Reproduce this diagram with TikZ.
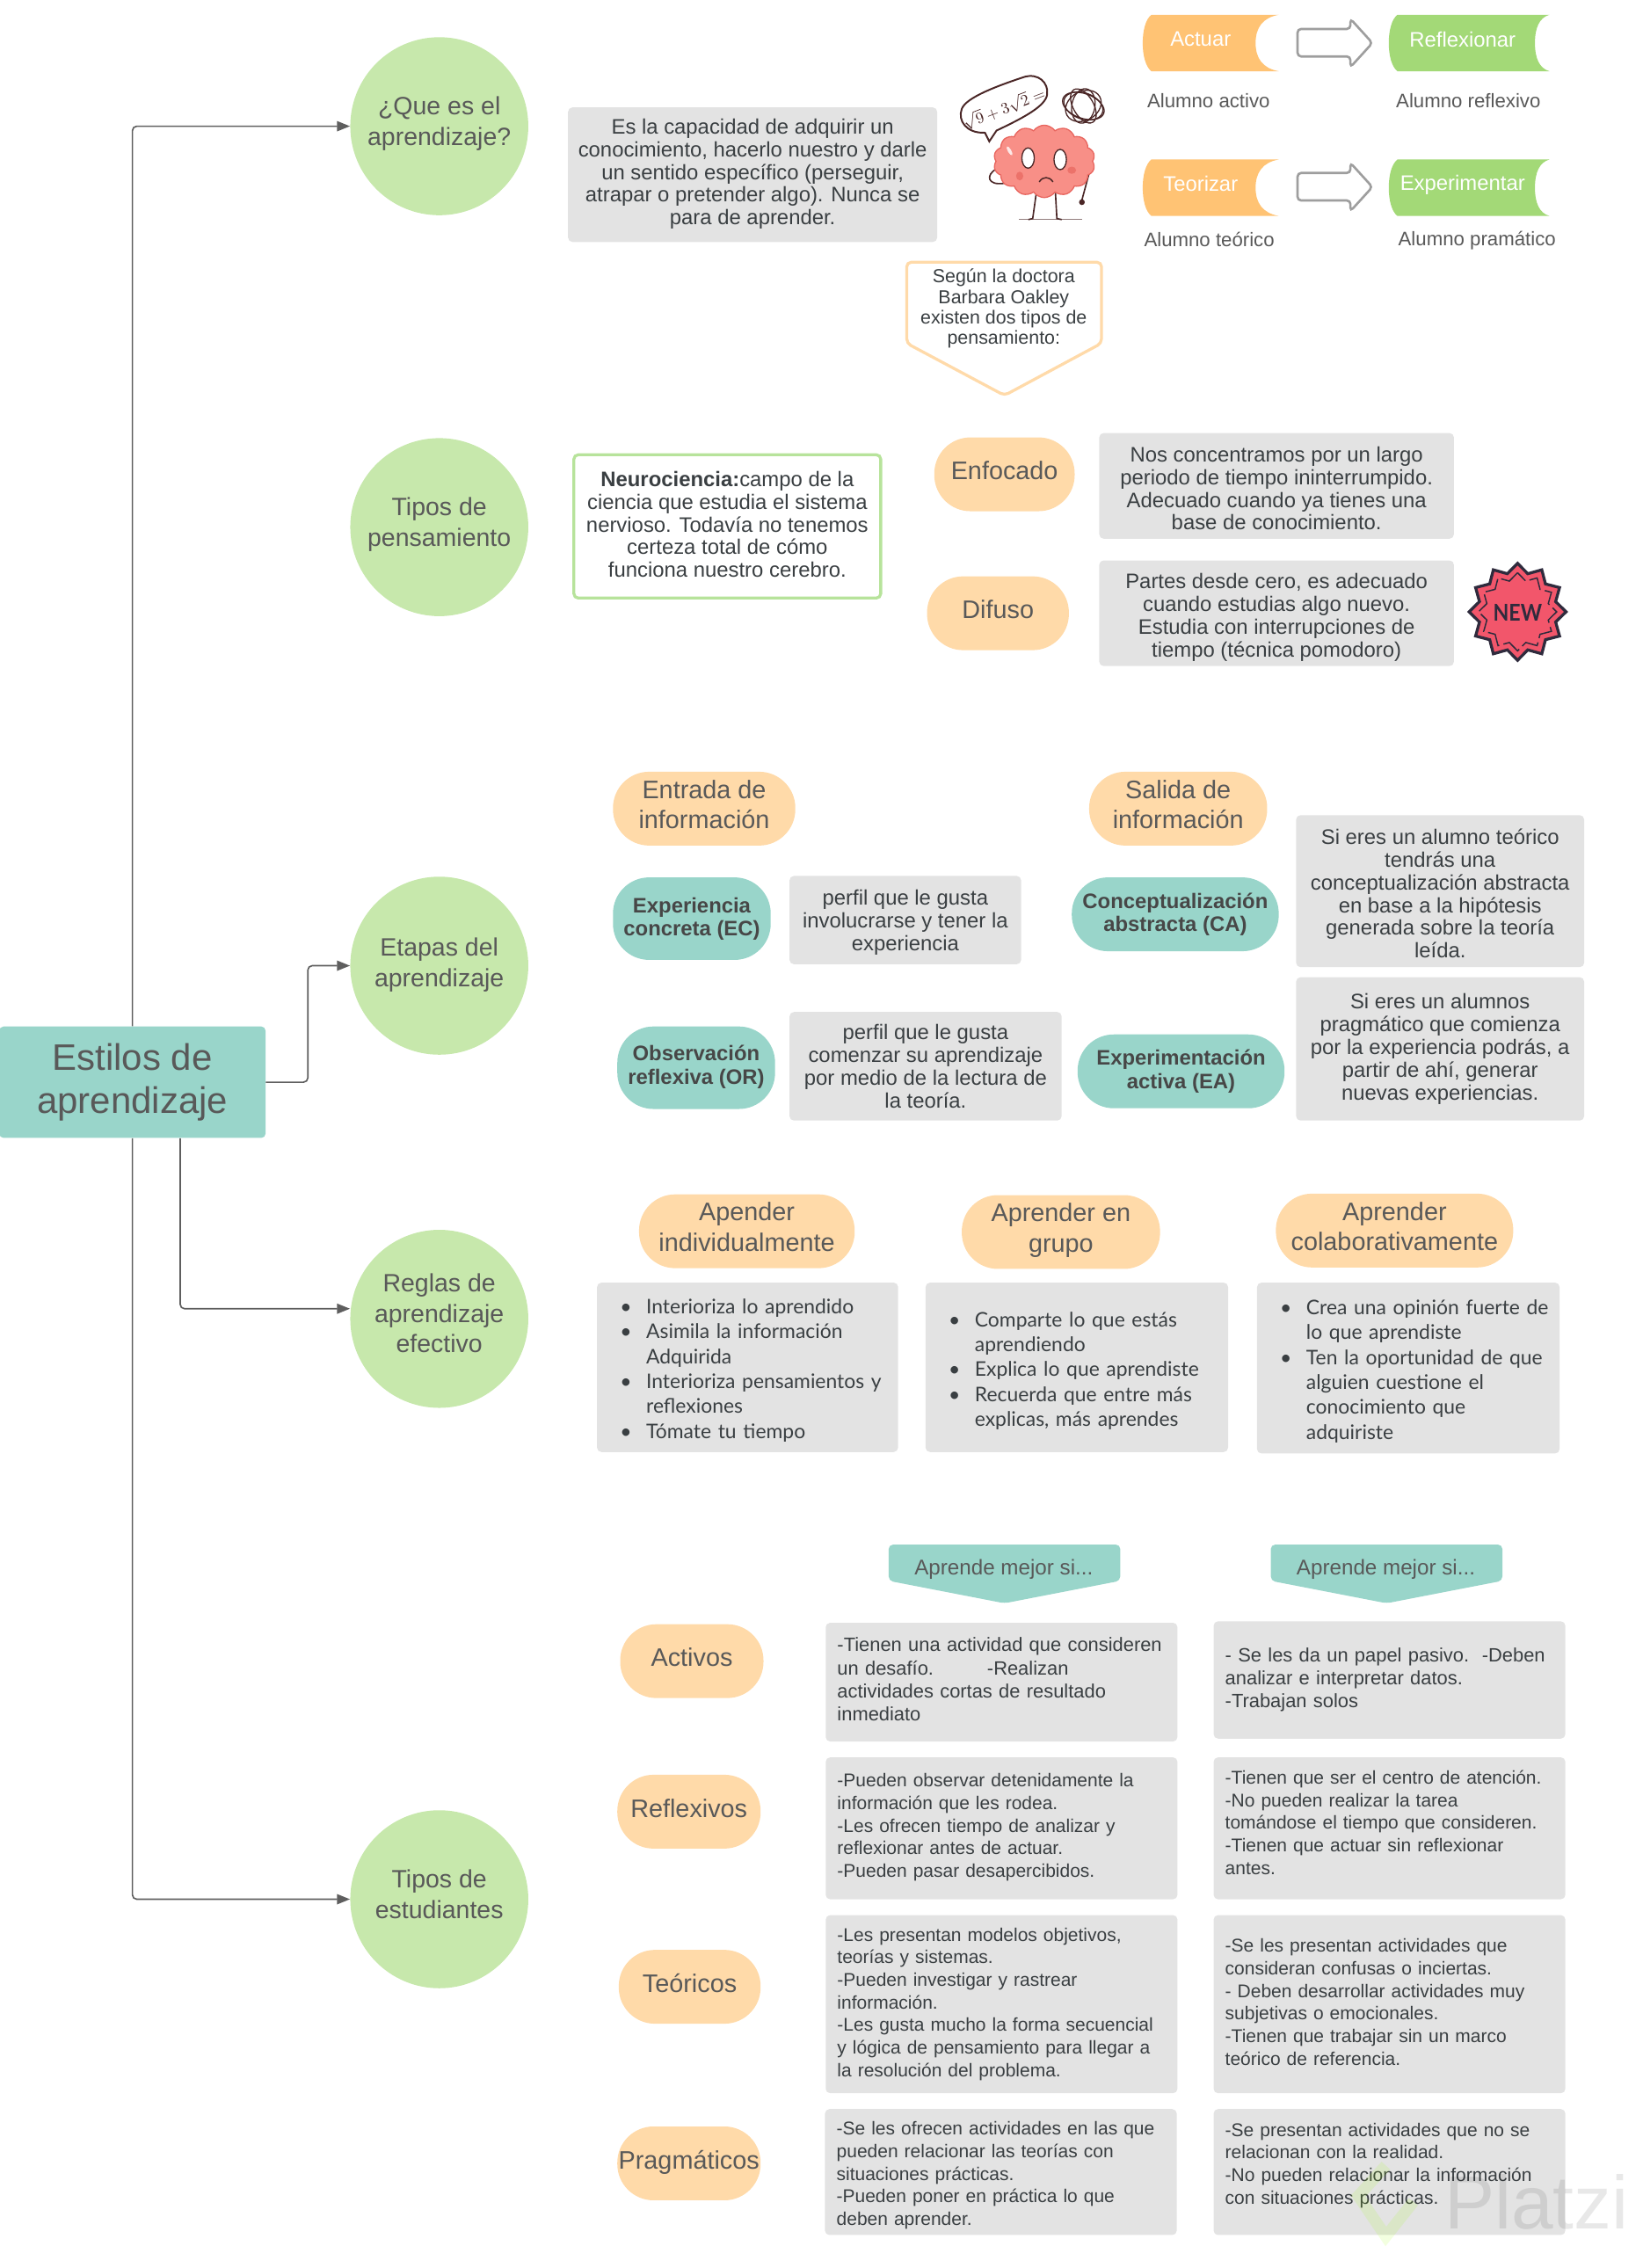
\documentclass[tikz,border=0pt]{standalone}
\usepackage{fontspec}
\setmainfont{Liberation Sans}
\newfontfamily\latofont{Lato}
\usetikzlibrary{arrows.meta}
\usetikzlibrary{shapes,shapes.symbols,shapes.geometric}

\definecolor{txtgray}{HTML}{595959}
\definecolor{txtdark}{HTML}{3A3F42}
\definecolor{topicgreen}{HTML}{C7E8AC}
\definecolor{neuroline}{HTML}{B7E39B}
\definecolor{teal}{HTML}{99D5CA}
\definecolor{peach}{HTML}{FFDAA9}
\definecolor{boxgray}{HTML}{E3E3E3}
\definecolor{orangetab}{HTML}{FFC374}
\definecolor{greentab}{HTML}{A3D977}
\definecolor{linegray}{HTML}{5E5E5E}
\definecolor{brainpink}{HTML}{F88F87}
\definecolor{brainline}{HTML}{E8665F}
\definecolor{inkbrown}{HTML}{4A2626}
\definecolor{newred}{HTML}{F2566B}
\definecolor{newink}{HTML}{2F2B3D}

\tikzset{
  rootbox/.style={rectangle, rounded corners=3pt, fill=teal, text=txtgray, align=center, inner sep=0pt,
    minimum width=184pt, minimum height=77pt, font=\fontsize{25.5}{30}\selectfont},
  topic/.style={circle, fill=topicgreen, text=txtgray, align=center, inner sep=0pt,
    minimum size=123pt, font=\fontsize{17.3}{21}\selectfont},
  pill/.style={rectangle, rounded corners=25pt, fill=peach, text=txtgray, align=center, inner sep=0pt,
    minimum height=51pt, font=\fontsize{17.5}{21}\selectfont},
  tealpill/.style={rectangle, rounded corners=25pt, fill=teal, text=txtgray!80!black, align=center, inner sep=0pt,
    font=\fontsize{14.5}{16}\selectfont\bfseries},
  infobox/.style={rectangle, rounded corners=3pt, fill=boxgray, text=txtdark, align=center, inner sep=0pt,
    font=\fontsize{14.5}{15.7}\selectfont},
  listbox/.style={rectangle, rounded corners=3pt, fill=boxgray, text=txtdark, align=left, inner sep=0pt,
    font=\latofont\fontsize{13.9}{17.2}\selectfont},
  studentbox/.style={rectangle, rounded corners=3pt, fill=boxgray, text=txtdark, align=left, inner ysep=0pt,
    inner xsep=8pt, text width=227pt, font=\fontsize{12.75}{15.6}\selectfont},
  neurobox/.style={rectangle, rounded corners=3pt, draw=neuroline, line width=2pt, fill=white, text=txtdark,
    align=center, inner sep=0pt, font=\fontsize{14.5}{15.7}\selectfont},
  tablabel/.style={text=white, inner sep=0pt, font=\fontsize{14.5}{17}\selectfont},
  alumno/.style={text=txtgray, inner sep=0pt, font=\fontsize{13.5}{16}\selectfont},
  hollow/.style={draw=black!38, line width=1.6pt, fill=white, rounded corners=2.5pt},
  ink/.style={draw=inkbrown, line width=1pt},
  link/.style={draw=linegray, line width=1pt, rounded corners=3pt, -{Triangle[length=9pt,width=7pt]}},
}

% tab with a hollow right end: x left, x right, y top, colour, depth of the hollow
\def\tabshape#1#2#3#4#5{
  \fill[#4] (#1+6,#3) -- (#2,#3) .. controls (#2-#5*0.7,#3+2) and (#2-#5,#3+9) .. (#2-#5,#3+19.5)
    .. controls (#2-#5,#3+30) and (#2-#5*0.7,#3+37) .. (#2,#3+39) -- (#1+6,#3+39)
    .. controls (#1+2,#3+36) and (#1,#3+28) .. (#1,#3+19.5) .. controls (#1,#3+11) and (#1+2,#3+3) .. (#1+6,#3) -- cycle;
}
% hollow arrow round a middle height
\def\hollowarrow#1{
  \draw[hollow] (897,#1-9.7) -- (933.5,#1-9.7) -- (933.5,#1-16.7) -- (948.7,#1) -- (933.5,#1+16.7)
    -- (933.5,#1+9.3) -- (897,#1+9.3) -- cycle;
}
\def\itm{\hspace*{34pt}\llap{\textbullet\hspace{10pt}}}
\def\cnt{\hspace*{34pt}}
\def\lift#1{\rule[-#1]{0pt}{#1}}
\def\sink#1{\rule{0pt}{#1}}

\begin{document}
\begin{tikzpicture}[x=1pt, y=-1pt]

\useasboundingbox (0.5,0.8) rectangle (1135.5,1567.8);

\node[rootbox] (root) at (92,748.5) {Estilos de\\aprendizaje\lift{2pt}};

\node[topic] (que) at (304,88) {¿Que es el\\aprendizaje?\lift{7pt}};
\node[topic] (tipos) at (304,365) {Tipos de\\pensamiento\lift{7pt}};
\node[topic] (etapas) at (304,668) {Etapas del\\aprendizaje\lift{5pt}};
\node[topic] (reglas) at (304,912) {Reglas de\\aprendizaje\\efectivo\lift{8pt}};
\node[topic] (estud) at (304,1313) {Tipos de\\estudiantes\lift{7pt}};

\draw[link] (root.north) |- (que.west);
\draw[link] (root.east) -- ++(29,0) |- (etapas.west);
\draw[link] ([xshift=33pt]root.south) |- ([yshift=7pt]reglas.west);
\draw[link] (root.south) |- (estud.west);

% definicion
\node[infobox, minimum width=255pt, minimum height=93pt] (def) at (520.5,121.5) {Es la capacidad de adquirir un\\conocimiento, hacerlo nuestro y darle\\un sentido específico (perseguir,\\atrapar o pretender algo). Nunca se\\para de aprender.\lift{4pt}};

% cerebro
\draw[ink, line width=1.2pt, fill=white] (681,92.5) .. controls (668,93) and (662,84) .. (665,76) .. controls (668,68) and (690,60) .. (708,54)
  .. controls (718,51) and (725,58) .. (724,66) .. controls (723,74) and (708,82) .. (689,91) -- (684,98.5) -- cycle;
\node[text=inkbrown, rotate=21, inner sep=0pt, font=\fontsize{11}{13}\selectfont] (calc) at (694,75.5) {$\sqrt{9}+3\sqrt{2}=$};
\foreach \a/\p/\q in {-20/15/8.5,30/13/10,80/12/8,120/13/7,160/14/9}
  \draw[ink, line width=.8pt, rotate around={\a:(749,74)}] (749,74) ellipse (\p pt and \q pt);
\draw[ink, line width=.6pt, opacity=.6] (704.5,152.5) -- (748,152.5);
\draw[ink] (716.5,134) -- (714,151.8) -- (711,152.5) (729.7,134) -- (730.7,151.8) -- (734,152.5);
\draw[ink] (689,117.4) .. controls (681,122) and (683,129) .. (694,127.5);
\draw[ink] (753,120.4) -- (748,139);
\fill[inkbrown] (748,140.5) circle (2pt);
\node[cloud, cloud puffs=14, cloud puff arc=110, fill=brainpink, draw=brainline, line width=.8pt, inner sep=0pt, minimum width=70pt, minimum height=50pt] (brain) at (722,112.3) {};
\fill[white, opacity=.8, rotate around={30:(698,105)}] (698,105) ellipse (1.2pt and 3.5pt);
\fill[brainline, opacity=.7] (705,122.4) ellipse (2.5pt and 3pt);
\fill[brainline, opacity=.7] (741,118.4) ellipse (3pt and 2.5pt);
\draw[inkbrown, line width=.8pt, fill=white] (710.8,110) ellipse (4.3pt and 7pt);
\draw[inkbrown, line width=.8pt, fill=white] (733,111) ellipse (4.3pt and 7pt);
\draw[inkbrown, line width=.9pt] (718.5,126.5) .. controls (721,122.5) and (725.5,122.5) .. (728,126.5);

% ciclo
\tabshape{790}{884}{11}{orangetab}{16}
\tabshape{960}{1071}{11}{greentab}{10}
\tabshape{790}{884}{111}{orangetab}{16}
\tabshape{960}{1071}{111}{greentab}{10}
\node[tablabel] (actuar) at (830,28) {Actuar};
\node[tablabel] (reflex) at (1011,28) {Reflexionar};
\node[tablabel] (teori) at (830,128) {Teorizar};
\node[tablabel] (exper) at (1011,128.5) {Experimentar};
\hollowarrow{30.5}
\hollowarrow{130}
\node[alumno] (al1) at (835.5,70.5) {Alumno activo};
\node[alumno] (al2) at (1015,70.5) {Alumno reflexivo};
\node[alumno] (al3) at (836,166.5) {Alumno teórico};
\node[alumno] (al4) at (1021,167) {Alumno pramático};

\draw[peach, line width=2pt, fill=white, rounded corners=3pt] (627,182) -- (761.5,182) -- (761.5,238) -- (694.5,274) -- (627,238) -- cycle;
\node[text=txtdark, align=center, inner sep=0pt, font=\fontsize{13}{14.2}\selectfont] (oakley) at (694,214) {Según la doctora\\Barbara Oakley\\existen dos tipos de\\pensamiento:};

% pensamiento
\node[neurobox, minimum width=212pt, minimum height=99pt] (neuro) at (503,364.5) {\textbf{Neurociencia:}campo de la\\ciencia que estudia el sistema\\nervioso. Todavía no tenemos\\certeza total de cómo\\funciona nuestro cerebro.\lift{3pt}};
\node[pill, minimum width=97pt] (enfocado) at (694.5,328.5) {Enfocado\lift{5pt}};
\node[pill, minimum width=98pt] (difuso) at (690,424.5) {Difuso\lift{5pt}};
\node[infobox, minimum width=245pt, minimum height=73pt] (enfbox) at (882.5,336.5) {\sink{14pt}Nos concentramos por un largo\\periodo de tiempo ininterrumpido.\\Adecuado cuando ya tienes una\\base de conocimiento.};
\node[infobox, minimum width=245pt, minimum height=73pt] (difbox) at (882.5,424.5) {\sink{16pt}Partes desde cero, es adecuado\\cuando estudias algo nuevo.\\Estudia con interrupciones de\\tiempo (técnica pomodoro)};
\node[star, star points=12, star point ratio=1.23, draw=newink, line width=2pt, fill=newred, inner sep=0pt, minimum size=67pt] (nuevo) at (1049,423.5) {};
\node[star, star points=12, star point ratio=1.23, draw=newink, line width=.9pt, dash pattern=on 14pt off 3pt, inner sep=0pt, minimum size=54pt] (nuevoin) at (1049,423.5) {};
\node[text=newink, inner sep=0pt, font=\latofont\fontsize{16}{18}\selectfont\bfseries] (newtxt) at (1049,424) {\scalebox{.88}[1]{NEW}};

% etapas
\node[pill, minimum width=126pt] (entrada) at (487,559.5) {Entrada de\\información\lift{6pt}};
\node[pill, minimum width=123pt] (salida) at (814.5,559.5) {Salida de\\información\lift{6pt}};
\node[tealpill, minimum width=109pt, minimum height=57pt] (ec) at (478.5,635.5) {Experiencia\\concreta (EC)\lift{3pt}};
\node[tealpill, minimum width=109pt, minimum height=57pt] (or) at (481.5,738.5) {Observación\\reflexiva (OR)\lift{4pt}};
\node[tealpill, minimum width=143pt, minimum height=51pt] (ca) at (812.5,632.5) {Conceptualización\\abstracta (CA)};
\node[tealpill, minimum width=143pt, minimum height=51pt] (ea) at (816.5,741) {Experimentación\\activa (EA)};
\node[infobox, minimum width=160pt, minimum height=61pt] (ecbox) at (626,636.5) {\sink{14pt}perfil que le gusta\\involucrarse y tener la\\experiencia};
\node[infobox, minimum width=188pt, minimum height=75pt] (orbox) at (640,737.5) {perfil que le gusta\\comenzar su aprendizaje\\por medio de la lectura de\\la teoría.};
\node[infobox, minimum width=199pt, minimum height=105pt] (cabox) at (995.5,616.5) {\sink{14pt}Si eres un alumno teórico\\tendrás una\\conceptualización abstracta\\en base a la hipótesis\\generada sobre la teoría\\leída.};
\node[infobox, minimum width=199pt, minimum height=99pt] (eabox) at (995.5,725.5) {Si eres un alumnos\\pragmático que comienza\\por la experiencia podrás, a\\partir de ahí, generar\\nuevas experiencias.};

% reglas
\node[pill, minimum width=149pt] (indiv) at (516.5,851.5) {Apender\\individualmente\lift{6pt}};
\node[pill, minimum width=137pt] (grupo) at (733.5,852) {Aprender en\\grupo\lift{6pt}};
\node[pill, minimum width=164pt] (colab) at (964,851) {Aprender\\colaborativamente\lift{6pt}};
\node[listbox, minimum width=208pt, minimum height=117pt, text width=208pt] (indivbox) at (517,945.5) {\sink{14.5pt}\itm Interioriza lo aprendido\\\itm Asimila la información\\\cnt Adquirida\\\itm Interioriza pensamientos y\\\cnt reflexiones\\\itm Tómate tu tiempo};
\node[listbox, minimum width=209pt, minimum height=117pt, text width=209pt] (grupobox) at (744.5,945.5) {\sink{15pt}\itm Comparte lo que estás\\\cnt aprendiendo\\\itm Explica lo que aprendiste\\\itm Recuerda que entre más\\\cnt explicas, más aprendes};
\node[listbox, minimum width=209pt, minimum height=118pt, text width=209pt] (colabbox) at (973.5,946) {\sink{14.5pt}\itm Crea una opinión fuerte de\\\cnt lo que aprendiste\\\itm Ten la oportunidad de que\\\cnt alguien cuestione el\\\cnt conocimiento que\\\cnt adquiriste};

% estudiantes
\foreach \x/\n in {694.5/mejora,958.5/mejorb} {
  \fill[teal, rounded corners=3pt] (\x-80,1068) -- (\x+80,1068) -- (\x+80,1093) -- (\x,1108.5) -- (\x-80,1093) -- cycle;
  \node[text=txtgray, inner sep=0pt, font=\fontsize{14.7}{17}\selectfont] (\n) at (\x-.5,1085) {Aprende mejor si...};
}
\node[pill, minimum width=99pt] (act) at (478.5,1148.5) {Activos\lift{5pt}};
\node[pill, minimum width=99pt] (ref) at (476.5,1252.5) {Reflexivos\lift{5pt}};
\node[pill, minimum width=98pt] (teo) at (477,1373.5) {Teóricos\lift{5pt}};
\node[pill, minimum width=99pt] (pra) at (476.5,1495.5) {Pragmáticos\lift{5pt}};

\node[studentbox, minimum height=82pt, font=\fontsize{13.3}{16}\selectfont] (a1) at (692.5,1163) {-Tienen una actividad que consideren\\un desafío.\hspace{37pt}-Realizan\\actividades cortas de resultado\\inmediato\lift{4pt}};
\node[studentbox, minimum height=81pt, font=\fontsize{13.3}{16}\selectfont] (a2) at (960.5,1161.5) {- Se les da un papel pasivo.~~-Deben\\analizar e interpretar datos.\\-Trabajan solos\lift{3pt}};
\node[studentbox, minimum height=98pt] (r1) at (692.5,1264) {-Pueden observar detenidamente la\\información que les rodea.\\-Les ofrecen tiempo de analizar y\\reflexionar antes de actuar.\\-Pueden pasar desapercibidos.\lift{4pt}};
\node[studentbox, minimum height=98pt] (r2) at (960.5,1264) {-Tienen que ser el centro de atención.\\-No pueden realizar la tarea\\tomándose el tiempo que consideren.\\-Tienen que actuar sin reflexionar\\antes.\lift{8pt}};
\node[studentbox, minimum height=123pt] (t1) at (692.5,1385.5) {-Les presentan modelos objetivos,\\teorías y sistemas.\\-Pueden investigar y rastrear\\información.\\-Les gusta mucho la forma secuencial\\y lógica de pensamiento para llegar a\\la resolución del problema.\lift{2pt}};
\node[studentbox, minimum height=123pt] (t2) at (960.5,1385.5) {-Se les presentan actividades que\\consideran confusas o inciertas.\\- Deben desarrollar actividades muy\\subjetivas o emocionales.\\-Tienen que trabajar sin un marco\\teórico de referencia.\lift{3pt}};
\node[studentbox, minimum height=87pt] (p1) at (692,1501.5) {\sink{14pt}-Se les ofrecen actividades en las que\\pueden relacionar las teorías con\\situaciones prácticas.\\-Pueden poner en práctica lo que\\deben aprender.};
\node[studentbox, minimum height=87pt] (p2) at (960.5,1501.5) {-Se presentan actividades que no se\\relacionan con la realidad.\\-No pueden relacionar la información\\con situaciones prácticas.\lift{12pt}};

% marca de agua
\draw[green!40!yellow, opacity=.12, line width=8pt] (958,1497) -- (939,1518) -- (958,1546) -- (977,1522);
\node[black, opacity=.09, inner sep=0pt, font=\fontsize{52}{56}\selectfont] (platzi) at (1062,1522) {Platzi};

\end{tikzpicture}
\end{document}
